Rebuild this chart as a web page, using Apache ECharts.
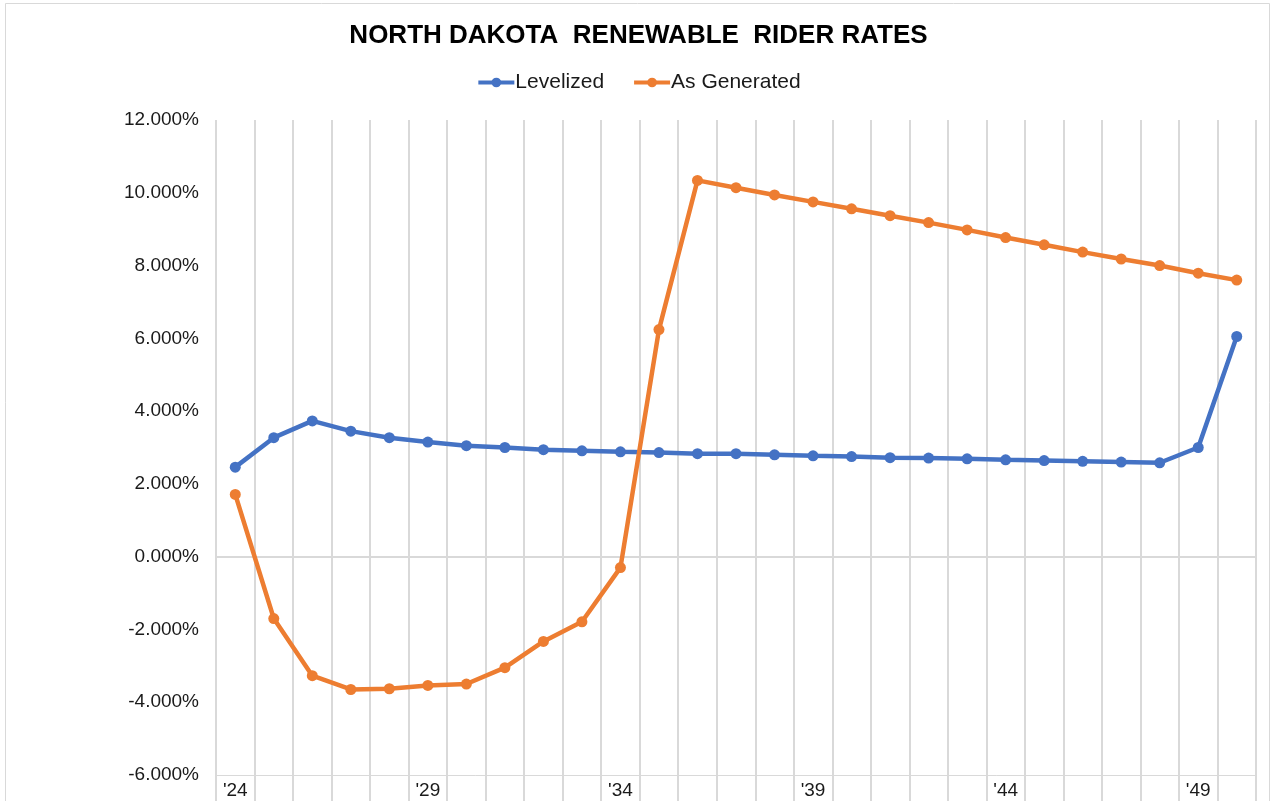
<!DOCTYPE html>
<html>
<head>
<meta charset="utf-8">
<script src="https://cdn.jsdelivr.net/npm/echarts@6/dist/echarts.min.js"></script>
<style>
html,body{margin:0;padding:0;background:#fff;}
#chart{width:1277px;height:801px;}
</style>
</head>
<body>
<div id="chart"></div>
<script>
const categories = ["'24","'25","'26","'27","'28","'29","'30","'31","'32","'33","'34","'35","'36","'37","'38","'39","'40","'41","'42","'43","'44","'45","'46","'47","'48","'49","'50"];
const levelized = [2.46,3.27,3.73,3.45,3.27,3.15,3.05,3.00,2.94,2.91,2.88,2.86,2.83,2.83,2.80,2.77,2.75,2.72,2.71,2.69,2.66,2.64,2.62,2.60,2.58,3.00,6.05];
const asGenerated = [1.71,-1.70,-3.27,-3.65,-3.63,-3.54,-3.50,-3.05,-2.33,-1.79,-0.30,6.24,10.34,10.14,9.94,9.75,9.56,9.37,9.18,8.98,8.77,8.57,8.37,8.18,8.00,7.79,7.60];
const yTicks = {min:-6, max:12, interval:2};

const chart = echarts.init(document.getElementById('chart'));
const font = 'Liberation Sans, Arial, sans-serif';
chart.setOption({
  animation:false,
  backgroundColor:'#fff',
  graphic:[{type:'rect',shape:{x:5.5,y:3.5,width:1264,height:820},style:{fill:'none',stroke:'#d9d9d9',lineWidth:1},silent:true}],
  title:{text:'NORTH DAKOTA  RENEWABLE  RIDER RATES',left:'center',top:18,textStyle:{fontFamily:font,fontSize:26,fontWeight:'bold',color:'#000'}},
  legend:{top:67,left:'center',itemWidth:36,itemHeight:12,itemGap:28,lineStyle:{width:4},
    textStyle:{fontFamily:font,fontSize:21,color:'#1a1a1a',padding:[0,0,0,-4]},data:['Levelized','As Generated']},
  grid:{left:216,right:21,top:120,bottom:26,containLabel:false},
  xAxis:{type:'category',data:categories,boundaryGap:true,
    axisLine:{show:true,onZero:false,lineStyle:{color:'#d9d9d9',width:1}},
    axisTick:{show:true,interval:0,length:26,lineStyle:{color:'#d9d9d9',width:2}},
    axisLabel:{interval:4,margin:6,fontFamily:font,fontSize:19,color:'#1a1a1a'},
    splitLine:{show:true,interval:0,lineStyle:{color:'#d9d9d9',width:2}}},
  yAxis:{type:'value',min:yTicks.min,max:yTicks.max,interval:yTicks.interval,
    axisLine:{show:false},axisTick:{show:false},splitLine:{show:false},
    axisLabel:{margin:17,fontFamily:font,fontSize:19,color:'#1a1a1a',formatter:v=>v.toFixed(3)+'%'}},
  series:[
    {name:'Levelized',type:'line',data:levelized,color:'#4472C4',symbol:'circle',symbolSize:11,lineStyle:{width:4.5},z:3,
     markLine:{silent:true,symbol:'none',label:{show:false},lineStyle:{color:'#d9d9d9',width:2,type:'solid'},data:[{yAxis:0}],z:1}},
    {name:'As Generated',type:'line',data:asGenerated,color:'#ED7D31',symbol:'circle',symbolSize:11,lineStyle:{width:4.5},z:4}
  ]
});
</script>
</body>
</html>
